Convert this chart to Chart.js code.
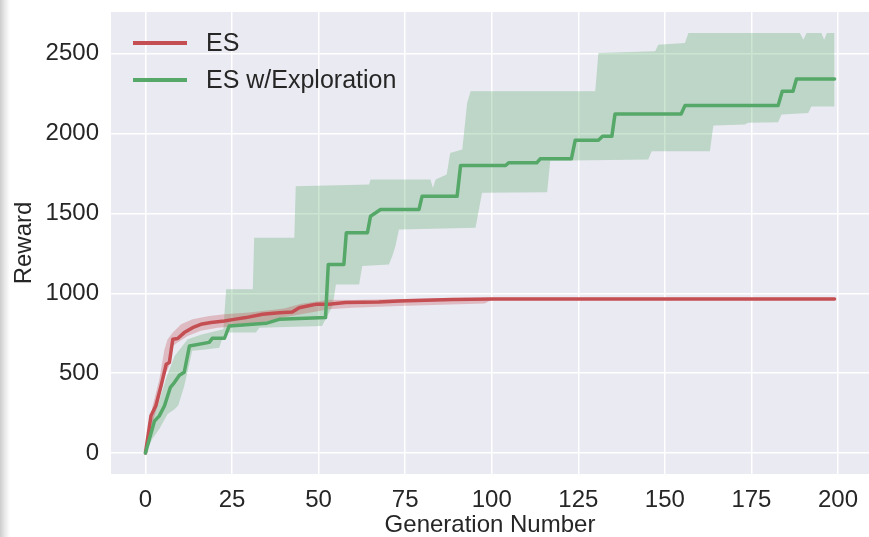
<!DOCTYPE html>
<html>
<head>
<meta charset="utf-8">
<script src="https://cdn.jsdelivr.net/npm/chart.js@4.4.1/dist/chart.umd.min.js"></script>
<style>
    html, body { margin: 0; padding: 0; }
    body {
        width: 869px; height: 537px; overflow: hidden;
        background: linear-gradient(to right, #cdcdcd 0px, #e9e9e9 5px, #ffffff 10px);
    }
</style>
</head>
<body>
<canvas id="rewardChart" width="869" height="537"></canvas>
<script>
// [generation, reward] key points
const esMean = [[0,0],[1.6,233],[3,296],[4.5,421],[6,556],[6.9,567],[7.9,712],[9.3,717],[11.2,754],[13.6,785],[16,806],[18.9,817],[22.8,827],[25.6,837],[29,848],[33.8,869],[38.6,879],[42.4,883],[44.4,910],[47.8,925],[49.2,931],[53,931],[57.8,942],[67.4,945],[73.2,952],[88.6,962],[100,965],[199,965]];
const esUpper = [[0,0],[2,290],[4,460],[5.5,650],[6.4,712],[7.9,754],[10.3,806],[13.6,837],[18.4,858],[22.8,869],[30,880],[40,905],[45,935],[53,960],[60,958],[73,964],[88,970],[100,970]];
const esLower = [[0,0],[2,180],[4,340],[5.5,483],[6.9,546],[7.9,671],[9.3,692],[12.2,733],[16,765],[20.8,785],[30,800],[40,850],[53,900],[59.7,910],[73.2,921],[98,937],[100,960]];

const exMean = [[0,0],[2.6,200],[4,233],[5.5,296],[7.2,412],[8.4,443],[9.8,487],[11.2,506],[12.7,670],[18.4,693],[19.3,718],[22.8,718],[24.2,796],[34.8,812],[38.6,837],[52,848],[52.8,1181],[57.3,1181],[58,1379],[64.1,1379],[65,1483],[66.5,1504],[67.9,1525],[79,1525],[79.9,1608],[90,1608],[91,1800],[104,1800],[104.9,1817],[113,1817],[114,1842],[123,1842],[124.1,1958],[130.8,1958],[132,1983],[134.7,1983],[135.6,2123],[154.7,2123],[155.8,2175],[182.7,2175],[183.9,2265],[187,2265],[188,2342],[199,2342]];
const exUpper = [[0,0],[2,220],[4,330],[6,470],[8.4,608],[12.2,712],[16,740],[22.5,775],[23.3,1025],[31,1025],[31.4,1348],[43,1348],[43.4,1671],[64.6,1681],[65,1712],[82.3,1712],[83,1660],[83.8,1712],[87,1744],[88,1879],[91.5,1900],[92.9,2192],[93.9,2265],[129.9,2265],[130.8,2504],[147.2,2515],[148.1,2556],[155.8,2567],[156.8,2629],[189,2629],[190,2588],[190.9,2629],[195.2,2629],[196,2588],[196.8,2629],[199,2629]];
const exLower = [[0,0],[2,90],[4,150],[6.4,244],[8.4,275],[9.5,300],[11.2,420],[12.7,560],[13.5,640],[18,650],[21.3,660],[22.8,754],[31.9,754],[32.9,785],[51,796],[53,879],[54,921],[54.5,983],[55,1056],[61.7,1056],[62.6,1171],[70.3,1181],[71.3,1233],[72.2,1296],[73.2,1400],[95.3,1410],[96.3,1525],[97.2,1629],[116,1633],[116.9,1830],[145.2,1838],[146.2,1890],[163,1890],[164,2050],[173.1,2056],[174,2067],[182.7,2071],[183.7,2119],[191.4,2129],[192.3,2170],[199,2170]];

const seriesNames = ['ES', 'ES w/Exploration'];
const seriesColors = ['#C44E52', '#55A868'];
const bandColors = ['rgba(196, 78, 82, 0.3)', 'rgba(85, 168, 104, 0.3)'];

const xTicks = [0, 25, 50, 75, 100, 125, 150, 175, 200];
const yTicks = [0, 500, 1000, 1500, 2000, 2500];

const fontFamily = '"Liberation Sans", Arial, sans-serif';
const textColor = '#262626';

function toPoints(arr) {
    return arr.map(p => ({x: p[0], y: p[1]}));
}

function bandPair(lower, upper, color) {
    return [
        {
            data: toPoints(lower),
            borderColor: 'rgba(0,0,0,0)',
            borderWidth: 0,
            pointRadius: 0,
            fill: false,
            order: 5
        },
        {
            data: toPoints(upper),
            borderColor: 'rgba(0,0,0,0)',
            borderWidth: 0,
            backgroundColor: color,
            pointRadius: 0,
            fill: '-1',
            order: 4
        }
    ];
}

// seaborn-like grey plot background
const plotBackground = {
    id: 'plotBackground',
    beforeDraw(chart) {
        const {ctx, chartArea} = chart;
        ctx.save();
        ctx.fillStyle = '#EAEAF2';
        ctx.fillRect(chartArea.left, chartArea.top, chartArea.right - chartArea.left, chartArea.bottom - chartArea.top);
        ctx.restore();
    }
};

// legend in the upper left corner of the plot
const cornerLegend = {
    id: 'cornerLegend',
    afterDatasetsDraw(chart) {
        const {ctx, chartArea} = chart;
        ctx.save();
        ctx.font = '25px ' + fontFamily;
        ctx.textBaseline = 'middle';
        for (let i = 0; i < seriesNames.length; i++) {
            const y = chartArea.top + 31 + i * 37;
            ctx.strokeStyle = seriesColors[i];
            ctx.lineWidth = 4;
            ctx.beginPath();
            ctx.moveTo(chartArea.left + 22, y);
            ctx.lineTo(chartArea.left + 76, y);
            ctx.stroke();
            ctx.fillStyle = textColor;
            ctx.fillText(seriesNames[i], chartArea.left + 95, y + 1);
        }
        ctx.restore();
    }
};

const ctx = document.getElementById('rewardChart');

new Chart(ctx, {
    type: 'line',
    data: {
        datasets: [
            ...bandPair(esLower, esUpper, bandColors[0]),
            ...bandPair(exLower, exUpper, bandColors[1]),
            {
                label: seriesNames[0],
                data: toPoints(esMean),
                borderColor: seriesColors[0],
                borderWidth: 3.5,
                pointRadius: 0,
                fill: false,
                order: 2
            },
            {
                label: seriesNames[1],
                data: toPoints(exMean),
                borderColor: seriesColors[1],
                borderWidth: 3.5,
                pointRadius: 0,
                fill: false,
                order: 1
            }
        ]
    },
    options: {
        responsive: false,
        animation: false,
        layout: { padding: { top: 12, right: 0, bottom: 0, left: 0 } },
        elements: { line: { tension: 0, borderCapStyle: 'round', borderJoinStyle: 'round' } },
        plugins: {
            legend: { display: false },
            tooltip: { enabled: false }
        },
        scales: {
            x: {
                type: 'linear',
                min: -9.95,
                max: 208.95,
                afterBuildTicks: scale => { scale.ticks = xTicks.map(v => ({value: v})); },
                afterFit: scale => { scale.height = 63; scale.paddingLeft = 0; scale.paddingRight = 0; },
                grid: { color: '#ffffff', lineWidth: 1.5, drawTicks: false },
                border: { display: false },
                ticks: {
                    color: textColor,
                    font: { family: fontFamily, size: 24 },
                    padding: 12,
                    maxRotation: 0,
                    autoSkip: false,
                    callback: v => String(v)
                },
                title: {
                    display: true,
                    text: 'Generation Number',
                    color: textColor,
                    font: { family: fontFamily, size: 24 },
                    padding: { top: 0, bottom: -3 }
                }
            },
            y: {
                type: 'linear',
                min: -131,
                max: 2761,
                afterBuildTicks: scale => { scale.ticks = yTicks.map(v => ({value: v})); },
                afterFit: scale => { scale.width = 111; scale.paddingTop = 0; scale.paddingBottom = 0; },
                grid: { color: '#ffffff', lineWidth: 1.5, drawTicks: false },
                border: { display: false },
                ticks: {
                    color: textColor,
                    font: { family: fontFamily, size: 24 },
                    padding: 12,
                    autoSkip: false,
                    callback: v => String(v)
                },
                title: {
                    display: true,
                    text: 'Reward',
                    color: textColor,
                    font: { family: fontFamily, size: 24 },
                    padding: { top: 10, bottom: 0 }
                }
            }
        }
    },
    plugins: [plotBackground, cornerLegend]
});
</script>
</body>
</html>
